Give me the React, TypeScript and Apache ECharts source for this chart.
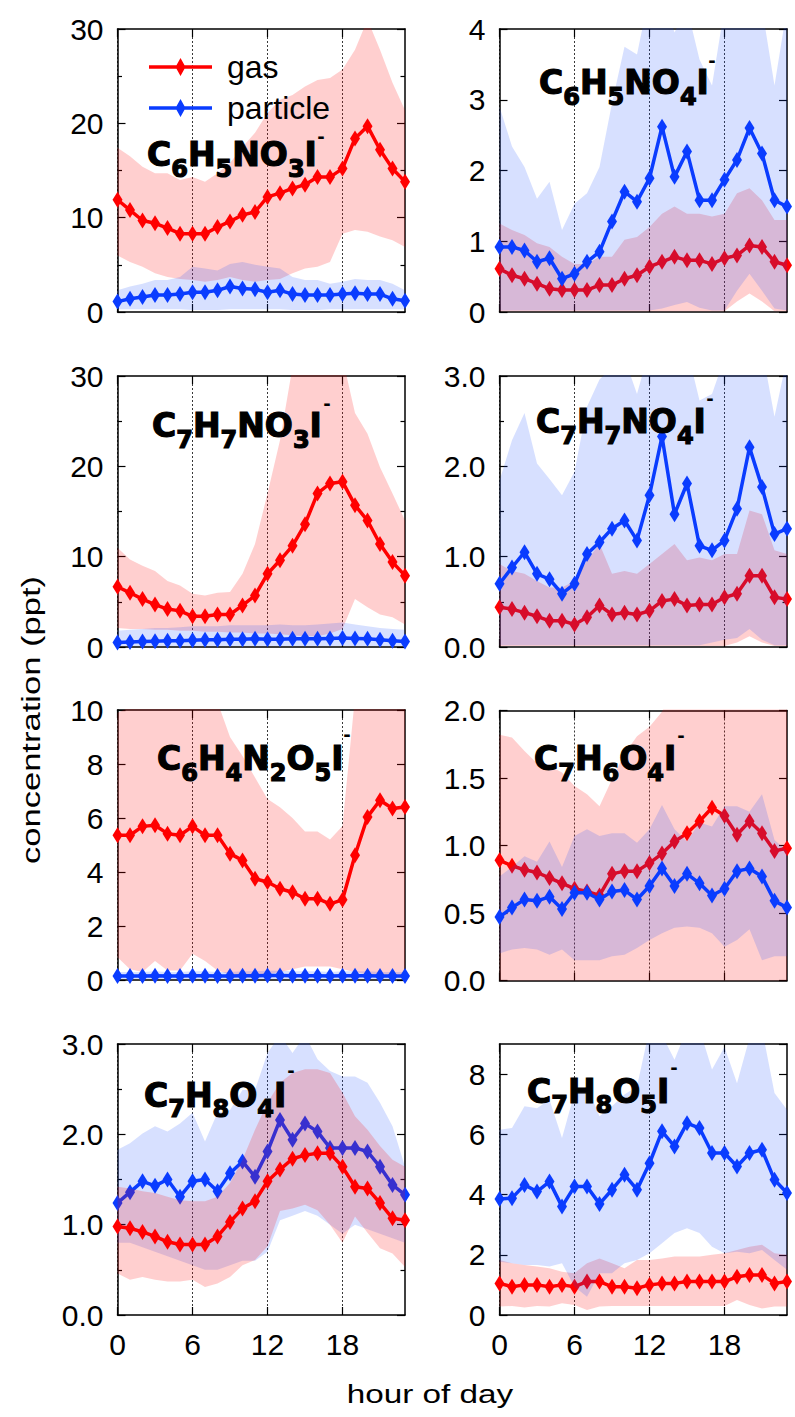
import React, { useEffect, useRef } from "react";
import * as echarts from "echarts";

// ---------------- data ----------------
const hours = ["0","1","2","3","4","5","6","7","8","9","10","11","12","13","14","15","16","17","18","19","20","21","22","23"];

// Panel 1: C6H5NO3I-
const p1GasMean = [11.9,10.8,9.7,9.4,8.9,8.3,8.3,8.3,9.0,9.6,10.3,10.6,12.2,12.6,13.1,13.5,14.3,14.3,15.2,18.4,19.7,17.2,15.2,13.8];
const p1GasHigh = [17.4,16.5,15.4,14.7,14.7,14.0,14.3,13.8,14.7,15.8,17.5,19.0,21.1,22.5,23.0,23.9,24.6,24.8,25.7,27.8,31.0,27.8,24.3,21.4];
const p1GasLow = [6.0,5.3,4.8,4.1,3.7,3.5,3.4,3.2,3.4,3.7,3.4,3.2,3.4,3.5,4.1,4.6,4.8,5.3,8.3,8.7,8.5,8.0,7.6,6.9];
const p1PartMean = [1.1,1.4,1.6,1.8,1.8,1.9,2.1,2.1,2.3,2.7,2.5,2.4,2.1,2.3,1.9,1.8,1.8,1.8,1.9,2.0,1.9,1.9,1.4,1.2];
const p1PartHigh = [2.3,2.7,3.0,3.4,3.4,3.7,4.8,4.6,4.4,5.1,5.3,5.0,4.8,4.6,3.7,3.4,3.4,3.0,3.2,3.5,3.4,3.4,3.0,2.3];
const p1PartLow = [0.3,0.3,0.3,0.3,0.3,0.3,0.2,0.2,0.2,0.3,0.3,0.3,0.3,0.3,0.2,0.2,0.2,0.3,0.3,0.3,0.3,0.3,0.3,0.3];

// Panel 2: C6H5NO4I-
const p2GasMean = [0.61,0.52,0.47,0.40,0.33,0.31,0.31,0.31,0.38,0.38,0.47,0.52,0.64,0.71,0.78,0.73,0.73,0.68,0.76,0.80,0.94,0.92,0.71,0.66];
const p2GasHigh = [1.25,1.16,1.09,0.97,0.92,0.78,0.68,0.68,0.78,0.78,1.02,1.06,1.2,1.39,1.49,1.39,1.39,1.35,1.39,1.68,1.75,1.58,1.3,1.3];
const p2GasLow = [0.01,0.01,0.01,0.01,0.01,0.01,0.01,0.01,0.01,0.01,0.01,0.01,0.01,0.01,0.01,0.01,0.01,0.01,0.01,0.15,0.26,0.15,0.01,0.01];
const p2PartMean = [0.92,0.92,0.87,0.71,0.76,0.47,0.54,0.71,0.85,1.28,1.70,1.56,1.89,2.62,1.91,2.27,1.58,1.58,1.87,2.15,2.60,2.24,1.58,1.49];
const p2PartHigh = [2.9,2.34,2.05,1.6,1.84,1.16,1.53,1.68,2.05,2.95,3.75,3.64,4.5,4.5,3.95,4.3,3.57,3.2,4.3,4.5,4.5,4.3,3.2,4.3];
const p2PartLow = [0.02,0.02,0.02,0.02,0.02,0.02,0.02,0.02,0.02,0.02,0.02,0.02,0.02,0.05,0.1,0.14,0.06,0.02,0.02,0.3,0.54,0.3,0.05,0.02];

// Panel 3: C7H7NO3I-
const p3GasMean = [6.67,6.0,5.3,4.7,4.2,4.0,3.4,3.4,3.6,3.6,4.6,5.7,8.1,9.6,11.2,13.6,17.0,18.1,18.3,15.7,14.0,11.4,9.4,7.9];
const p3GasHigh = [11.0,9.7,9.0,8.4,7.3,6.8,5.9,5.7,6.0,6.1,8.1,11.4,17.0,22.9,31,32,33,33,32,25.9,23.6,19.9,17.0,14.0];
const p3GasLow = [2.1,2.0,2.0,1.9,1.9,1.8,1.8,1.7,1.7,1.6,1.6,1.5,1.5,1.4,1.3,1.2,1.2,1.5,2.0,5.3,4.4,3.6,3.3,2.5];
const p3PartMean = [0.5,0.55,0.6,0.65,0.7,0.7,0.75,0.8,0.8,0.85,0.85,0.9,0.85,0.85,0.9,0.9,0.9,0.95,1.0,0.95,0.9,0.8,0.7,0.6];
const p3PartHigh = [1.8,1.9,2.0,2.1,2.1,2.2,2.3,2.3,2.3,2.4,2.4,2.4,2.4,2.5,2.4,2.4,2.5,2.6,2.7,2.5,2.3,2.1,2.0,1.9];
const p3PartLow = [0.1,0.1,0.1,0.1,0.1,0.1,0.1,0.1,0.1,0.1,0.1,0.1,0.1,0.1,0.1,0.1,0.1,0.1,0.1,0.1,0.1,0.1,0.1,0.1];

// Panel 4: C7H7NO4I-
const p4GasMean = [0.44,0.42,0.38,0.34,0.29,0.29,0.25,0.33,0.46,0.36,0.38,0.36,0.40,0.51,0.53,0.46,0.47,0.47,0.55,0.59,0.79,0.79,0.55,0.53];
const p4GasHigh = [0.92,0.84,0.81,0.73,0.66,0.66,0.73,0.96,1.14,0.81,0.84,0.81,0.92,1.03,1.14,0.96,0.99,0.96,1.03,1.03,1.51,1.47,1.07,1.03];
const p4GasLow = [0.01,0.01,0.01,0.01,0.01,0.01,0.01,0.01,0.01,0.01,0.01,0.01,0.01,0.01,0.01,0.01,0.01,0.01,0.01,0.05,0.12,0.05,0.01,0.01];
const p4PartMean = [0.70,0.88,1.05,0.81,0.75,0.59,0.70,1.03,1.16,1.31,1.40,1.18,1.68,2.33,1.47,1.81,1.12,1.07,1.18,1.53,2.21,1.77,1.25,1.31];
const p4PartHigh = [1.84,2.29,2.59,2.03,1.86,1.68,1.94,2.66,2.96,3.1,3.2,2.8,3.3,3.5,3.2,3.3,2.73,2.8,3.2,3.3,3.5,3.3,2.55,3.2];
const p4PartLow = [0.02,0.02,0.02,0.02,0.02,0.02,0.02,0.02,0.02,0.02,0.02,0.02,0.02,0.02,0.02,0.02,0.02,0.05,0.08,0.1,0.2,0.08,0.02,0.02];

// Panel 5: C6H4N2O5I-
const p5GasMean = [5.36,5.36,5.69,5.73,5.42,5.36,5.69,5.36,5.36,4.68,4.43,3.75,3.63,3.38,3.25,3.01,3.01,2.82,2.97,4.62,6.04,6.66,6.35,6.41];
const p5GasHigh = [9.9,10.1,10.3,10.4,10.4,10.5,10.5,10.5,10.3,9.0,8.3,7.5,6.7,6.4,6.0,5.5,5.5,5.2,5.7,10.5,11,11,11,11];
const p5GasLow = [0.84,0.4,0.3,0.7,0.35,0.35,0.97,0.7,0.35,0.2,0.1,0.1,0.2,0.3,0.4,0.5,0.5,0.5,0.4,0.3,0.2,0.1,0.1,0.1];
const p5PartMean = [0.15,0.15,0.15,0.16,0.15,0.15,0.16,0.16,0.15,0.15,0.16,0.16,0.17,0.17,0.16,0.16,0.16,0.15,0.16,0.16,0.16,0.15,0.15,0.15];
const p5PartHigh = [0.3,0.3,0.3,0.32,0.3,0.3,0.32,0.32,0.3,0.3,0.32,0.32,0.34,0.34,0.32,0.32,0.32,0.3,0.32,0.32,0.32,0.3,0.3,0.3];
const p5PartLow = [0.03,0.03,0.03,0.03,0.03,0.03,0.03,0.03,0.03,0.03,0.03,0.03,0.03,0.03,0.03,0.03,0.03,0.03,0.03,0.03,0.03,0.03,0.03,0.03];

// Panel 6: C7H6O4I-
const p6GasMean = [0.89,0.85,0.82,0.80,0.76,0.72,0.68,0.66,0.63,0.79,0.81,0.81,0.87,0.94,1.03,1.09,1.18,1.28,1.22,1.08,1.18,1.09,0.96,0.98];
const p6GasHigh = [1.82,1.80,1.70,1.61,1.59,1.54,1.44,1.38,1.29,1.49,1.68,1.81,1.88,1.99,2.2,2.2,2.2,2.2,2.2,2.2,2.2,2.2,2.2,2.2];
const p6GasLow = [0,0,0,0,0,0,0,0,0,0,0,0,0,0,0,0,0,0,0,0,0,0,0,0];
const p6PartMean = [0.47,0.54,0.60,0.59,0.62,0.53,0.65,0.65,0.60,0.66,0.67,0.60,0.70,0.83,0.70,0.79,0.72,0.63,0.68,0.81,0.83,0.77,0.59,0.54];
const p6PartHigh = [0.77,0.84,0.92,0.88,1.03,0.84,1.07,1.12,1.07,1.09,1.09,1.02,1.12,1.30,1.12,1.03,1.17,1.14,1.29,1.29,1.25,1.38,1.04,0.96];
const p6PartLow = [0.20,0.23,0.24,0.23,0.19,0.23,0.15,0.15,0.15,0.18,0.19,0.24,0.30,0.35,0.39,0.40,0.39,0.35,0.25,0.30,0.38,0.15,0.18,0.18];

// Panel 7: C7H8O4I-
const p7GasMean = [0.98,0.96,0.92,0.87,0.81,0.78,0.78,0.78,0.87,1.03,1.18,1.26,1.48,1.61,1.73,1.77,1.79,1.79,1.64,1.42,1.40,1.24,1.07,1.05];
const p7GasHigh = [1.42,1.40,1.37,1.35,1.31,1.27,1.26,1.26,1.31,1.46,1.72,2.05,2.35,2.57,2.68,2.72,2.72,2.68,2.46,2.20,2.05,1.87,1.72,1.64];
const p7GasLow = [0.46,0.39,0.42,0.39,0.37,0.37,0.39,0.31,0.35,0.42,0.55,0.61,0.76,1.15,1.18,1.22,1.16,1.0,0.80,1.09,0.91,0.74,0.68,0.53];
const p7PartMean = [1.24,1.36,1.48,1.43,1.50,1.31,1.48,1.50,1.37,1.57,1.70,1.53,1.81,2.16,1.94,2.12,2.03,1.85,1.85,1.85,1.81,1.64,1.44,1.33];
const p7PartHigh = [1.83,1.90,2.01,2.09,2.03,2.12,2.24,1.92,2.24,2.27,2.49,2.49,2.9,3.1,2.9,3.1,2.83,2.70,2.64,2.64,2.57,2.35,2.09,1.64];
const p7PartLow = [0.8,0.8,0.75,0.7,0.65,0.6,0.55,0.5,0.5,0.55,0.6,0.6,0.7,1.05,1.1,1.15,1.1,1.0,0.9,1.0,0.95,0.9,0.85,0.8];

// Panel 8: C7H8O5I-
const p8GasMean = [1.05,0.94,1.00,1.00,0.94,1.00,0.94,1.11,1.11,0.94,0.94,0.89,1.00,1.05,1.05,1.11,1.11,1.11,1.11,1.27,1.33,1.33,1.05,1.11];
const p8GasHigh = [1.83,1.72,1.66,1.61,1.55,1.44,1.39,1.72,1.88,1.72,1.55,1.83,1.83,1.88,1.94,1.94,1.94,2.0,2.05,2.16,2.27,2.33,2.05,2.0];
const p8GasLow = [0.28,0.3,0.25,0.3,0.28,0.39,0.33,0.17,0.28,0.3,0.3,0.3,0.3,0.3,0.3,0.3,0.3,0.3,0.3,0.5,0.33,0.22,0.28,0.28];
const p8PartMean = [3.85,3.88,4.32,4.10,4.43,3.60,4.27,4.27,3.69,4.16,4.66,4.16,5.04,6.10,5.60,6.37,6.21,5.38,5.38,4.93,5.38,5.49,4.49,4.05];
const p8PartHigh = [6.15,6.21,6.93,6.87,7.15,5.88,7.37,7.59,6.60,6.93,7.32,7.59,9.5,9.3,8.48,9.5,9.5,8.15,8.9,7.7,9.2,9.5,7.37,6.82];
const p8PartLow = [1.77,1.72,1.66,1.66,1.61,1.72,0.94,0.61,1.39,1.39,1.72,1.83,2.05,2.38,2.72,2.88,2.72,2.27,2.05,2.1,2.05,2.16,1.83,1.5];

// formula labels (rich text markup); the ionic charge is a separate superscript
const formulas = [
  "{b|C}{s|6}{b|H}{s|5}{b|NO}{s|3}{b|I}",
  "{b|C}{s|6}{b|H}{s|5}{b|NO}{s|4}{b|I}",
  "{b|C}{s|7}{b|H}{s|7}{b|NO}{s|3}{b|I}",
  "{b|C}{s|7}{b|H}{s|7}{b|NO}{s|4}{b|I}",
  "{b|C}{s|6}{b|H}{s|4}{b|N}{s|2}{b|O}{s|5}{b|I}",
  "{b|C}{s|7}{b|H}{s|6}{b|O}{s|4}{b|I}",
  "{b|C}{s|7}{b|H}{s|8}{b|O}{s|4}{b|I}",
  "{b|C}{s|7}{b|H}{s|8}{b|O}{s|5}{b|I}",
];
const charge = "-";

// axis scales per panel
const yMins = [0, 0, 0, 0, 0, 0, 0, 0];
const yMaxs = [30, 4, 30, 3, 10, 2, 3, 9];
const yIntervals = [10, 1, 10, 1, 2, 0.5, 1, 2];
const yMinor = [true, false, true, true, false, false, true, false];
const yDecimals = [0, 0, 0, 1, 0, 1, 1, 0];

const gasData = [
  [p1GasMean, p1GasLow, p1GasHigh],
  [p2GasMean, p2GasLow, p2GasHigh],
  [p3GasMean, p3GasLow, p3GasHigh],
  [p4GasMean, p4GasLow, p4GasHigh],
  [p5GasMean, p5GasLow, p5GasHigh],
  [p6GasMean, p6GasLow, p6GasHigh],
  [p7GasMean, p7GasLow, p7GasHigh],
  [p8GasMean, p8GasLow, p8GasHigh],
];
const partData = [
  [p1PartMean, p1PartLow, p1PartHigh],
  [p2PartMean, p2PartLow, p2PartHigh],
  [p3PartMean, p3PartLow, p3PartHigh],
  [p4PartMean, p4PartLow, p4PartHigh],
  [p5PartMean, p5PartLow, p5PartHigh],
  [p6PartMean, p6PartLow, p6PartHigh],
  [p7PartMean, p7PartLow, p7PartHigh],
  [p8PartMean, p8PartLow, p8PartHigh],
];
// in panel 7 the gas layer is drawn over the particle layer
const gasOnTop = [false, false, false, false, false, false, true, false];

// ---------------- layout & style ----------------
const GRIDS = [
  { left: 117.5, top: 29, width: 287.5, height: 283 },
  { left: 499.5, top: 29, width: 287.5, height: 283 },
  { left: 117.5, top: 376, width: 287.5, height: 271 },
  { left: 499.5, top: 376, width: 287.5, height: 271 },
  { left: 117.5, top: 710, width: 287.5, height: 270 },
  { left: 499.5, top: 710.5, width: 287.5, height: 270 },
  { left: 117.5, top: 1044, width: 287.5, height: 271 },
  { left: 499.5, top: 1044, width: 287.5, height: 271 },
];
const LABEL_POS = [
  [147, 154.5], [539, 82.5], [152, 425.5], [536, 421.5],
  [157, 758.5], [534, 758.5], [144, 1095], [527, 1091],
];
const CHARGE_POS = [
  [321, 136], [712, 60], [327, 403], [710, 398],
  [347, 734], [681, 735], [291, 1070], [674, 1067],
];

const FONT = "'Liberation Sans', Arial, Helvetica, sans-serif";
const BOLD_FONT = "'DejaVu Sans', 'Liberation Sans', sans-serif";
const RED = "#ff0000";
const BLUE = "#0a3cff";
const RED_BAND = "rgba(255,0,0,0.19)";
const BLUE_BAND = "rgba(20,70,255,0.17)";
// legend sample: thick line with a tall diamond in its middle
const LEGEND_ICON = "path://M0,7.2L63,7.2L63,10.8L0,10.8Z M31.5,0L36.5,9L31.5,18L26.5,9Z";

function diff(high: number[], low: number[]) {
  return high.map((h, i) => Math.round((h - low[i]) * 1000) / 1000);
}

function layerSeries(
  name: string, idx: number, d: number[][], color: string, band: string, z: number
) {
  const [mean, low, high] = d;
  const stack = `p${idx}-${name}`;
  const base = { type: "line", xAxisIndex: idx * 2, yAxisIndex: idx * 2, silent: true, animation: false };
  return [
    { ...base, name: `${name} low ${idx}`, data: low, stack, symbol: "none", lineStyle: { opacity: 0 }, z },
    { ...base, name: `${name} range ${idx}`, data: diff(high, low), stack, symbol: "none", lineStyle: { opacity: 0 }, areaStyle: { color: band, opacity: 1 }, z },
    {
      ...base, name, data: mean, symbol: "diamond", symbolSize: [10, 16], showAllSymbol: true,
      itemStyle: { color }, lineStyle: { color, width: 3.5 }, z: z + 1,
    },
  ];
}

function buildOption() {
  const grid: any[] = [];
  const xAxis: any[] = [];
  const yAxis: any[] = [];
  const series: any[] = [];
  const graphic: any[] = [];
  const axisLine = { show: true, onZero: false, lineStyle: { color: "#000", width: 1.5 } };
  const tickStyle = { color: "#000", width: 1.2 };

  for (let i = 0; i < 8; i++) {
    const g = GRIDS[i];
    grid.push({ left: g.left, top: g.top, width: g.width, height: g.height });
    const bottomRow = i >= 6;
    xAxis.push({
      gridIndex: i, type: "category", data: hours, boundaryGap: false, position: "bottom",
      axisLine,
      axisTick: { show: true, inside: true, length: 8, interval: 5, lineStyle: tickStyle },
      axisLabel: { show: bottomRow, interval: 5, fontSize: 30, fontFamily: FONT, color: "#000", margin: 14 },
      splitLine: { show: true, interval: 5, lineStyle: { color: "#222", width: 0.9, type: [2, 2] } },
    });
    xAxis.push({
      gridIndex: i, type: "category", data: hours, boundaryGap: false, position: "top",
      axisLine,
      axisTick: { show: true, inside: true, length: 8, interval: 5, lineStyle: tickStyle },
      axisLabel: { show: false },
      splitLine: { show: false },
    });
    const dec = yDecimals[i];
    const yCommon = {
      gridIndex: i, type: "value", min: yMins[i], max: yMaxs[i], interval: yIntervals[i],
      axisLine,
      axisTick: { show: true, inside: true, length: 8, lineStyle: tickStyle },
      minorTick: { show: yMinor[i], splitNumber: 2, length: 4.5, lineStyle: tickStyle },
      splitLine: { show: false },
    };
    yAxis.push({
      ...yCommon, position: "left",
      axisLabel: {
        show: true, fontSize: 30, fontFamily: FONT, color: "#000", margin: 14,
        showMaxLabel: i === 7 ? false : undefined,
        formatter: (v: number) => v.toFixed(dec),
      },
    });
    yAxis.push({ ...yCommon, position: "right", axisLabel: { show: false } });

    if (gasOnTop[i]) {
      series.push(...layerSeries("particle", i, partData[i], BLUE, BLUE_BAND, 2));
      series.push(...layerSeries("gas", i, gasData[i], RED, RED_BAND, 4));
    } else {
      series.push(...layerSeries("gas", i, gasData[i], RED, RED_BAND, 2));
      series.push(...layerSeries("particle", i, partData[i], BLUE, BLUE_BAND, 4));
    }

    const [lx, ly] = LABEL_POS[i];
    const tok = { fontFamily: BOLD_FONT, fontWeight: "bold", fill: "#000", stroke: "#000", lineWidth: 1.2 };
    graphic.push({
      type: "text", x: lx, y: ly, z: 100,
      style: {
        text: formulas[i], align: "left", verticalAlign: "middle",
        rich: {
          b: { ...tok, fontSize: 33, lineHeight: 34 },
          s: { ...tok, fontSize: 24, lineHeight: 24, padding: [28, 0, 0, 0] },
        },
      },
    });
    const [cx, cy] = CHARGE_POS[i];
    graphic.push({
      type: "text", x: cx, y: cy, z: 100,
      style: {
        text: charge, align: "center", verticalAlign: "middle",
        fontFamily: BOLD_FONT, fontWeight: "bold", fontSize: 18, lineHeight: 12, fill: "#000",
      },
    });
  }

  graphic.push({
    type: "text", x: 31, y: 720, rotation: Math.PI / 2, scaleX: 1.33,
    style: { text: "concentration (ppt)", fontSize: 26, fontFamily: FONT, fill: "#000", align: "center", verticalAlign: "middle" },
  });
  graphic.push({
    type: "text", x: 430, y: 1394, scaleX: 1.28,
    style: { text: "hour of day", fontSize: 26, fontFamily: FONT, fill: "#000", align: "center", verticalAlign: "middle" },
  });

  return {
    animation: false,
    backgroundColor: "#fff",
    legend: {
      data: ["gas", "particle"], left: 149, top: 51, orient: "vertical", padding: 0,
      icon: LEGEND_ICON, itemWidth: 63, itemHeight: 18, itemGap: 9,
      textStyle: { fontSize: 32, fontFamily: FONT, color: "#000", lineHeight: 30, padding: [0, 0, 0, 10] },
    },
    grid, xAxis, yAxis, series, graphic,
  };
}

export default function App() {
  const ref = useRef<HTMLDivElement>(null);
  useEffect(() => {
    document.body.style.margin = "0";
    const chart = echarts.init(ref.current!, undefined, { renderer: "svg" });
    chart.setOption(buildOption() as any);
    return () => chart.dispose();
  }, []);
  return <div ref={ref} style={{ width: 795, height: 1417 }} />;
}
